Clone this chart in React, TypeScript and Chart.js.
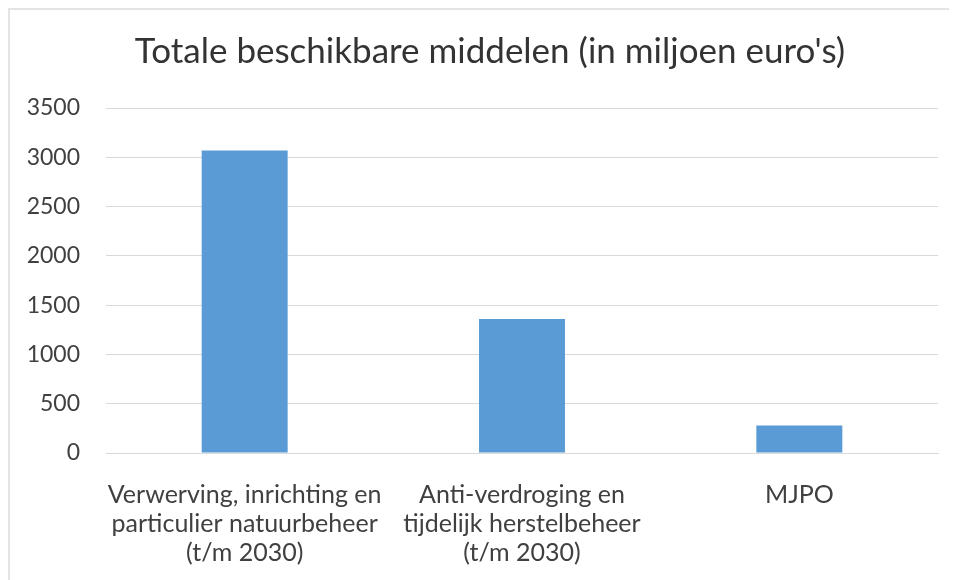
import React, { useEffect, useRef } from "react";
import { Chart, registerables } from "chart.js";

Chart.register(...registerables);

const categories: string[][] = [
  ["Verwerving, inrichting en", "particulier natuurbeheer", "(t/m 2030)"],
  ["Anti-verdroging en", "tijdelijk herstelbeheer", "(t/m 2030)"],
  ["MJPO"],
];
const values: number[] = [3070, 1360, 280];
const titleText = "Totale beschikbare middelen (in miljoen euro's)";
const yMax = 3500;
const yStep = 500;

const FONT = "Lato, 'Open Sans', sans-serif";

const shiftTitle = {
  id: "shiftTitle",
  afterLayout(chart: any) {
    if (chart.titleBlock) chart.titleBlock.left = 32;
  },
};

export default function App() {
  const ref = useRef<HTMLCanvasElement | null>(null);
  useEffect(() => {
    if (!ref.current) return;
    const chart = new Chart(ref.current, {
      type: "bar",
      data: {
        labels: categories,
        datasets: [
          {
            data: values,
            backgroundColor: "#5b9bd5",
            borderWidth: 0,
            barPercentage: 0.31,
            categoryPercentage: 1,
          },
        ],
      },
      plugins: [shiftTitle],
      options: {
        animation: false,
        responsive: false,
        maintainAspectRatio: false,
        layout: { padding: { left: 0, right: 19, top: 0, bottom: 0 } },
        plugins: {
          legend: { display: false },
          tooltip: { enabled: false },
          title: {
            display: true,
            text: titleText,
            color: "#333333",
            font: { family: FONT, size: 35, weight: "normal" as any, lineHeight: 1.2 },
            padding: { top: 21, bottom: 35 },
          },
        },
        scales: {
          x: {
            grid: { display: false },
            border: { display: true, color: "#d9d9d9", width: 1 },
            ticks: {
              color: "#404040",
              font: { family: FONT, size: 25, lineHeight: 1.16 },
              padding: 19,
              maxRotation: 0,
              autoSkip: false,
            },
            afterFit: (s: any) => {
              s.height = 127;
            },
          },
          y: {
            min: 0,
            max: yMax,
            grid: { color: "#d9d9d9", drawTicks: false },
            border: { display: false },
            ticks: {
              stepSize: yStep,
              color: "#404040",
              font: { family: FONT, size: 23 },
              padding: 26,
              callback: (v: any) => String(v),
            },
            afterFit: (s: any) => {
              s.width = 96;
            },
          },
        },
      },
    });
    return () => chart.destroy();
  }, []);
  return (
    <div
      style={{
        width: 949,
        height: 572,
        borderTop: "2px solid #e4e4e4",
        borderLeft: "2px solid #e4e4e4",
        boxSizing: "border-box",
        background: "#fff",
      }}
    >
      <canvas ref={ref} width={947} height={570} style={{ display: "block" }} />
    </div>
  );
}
